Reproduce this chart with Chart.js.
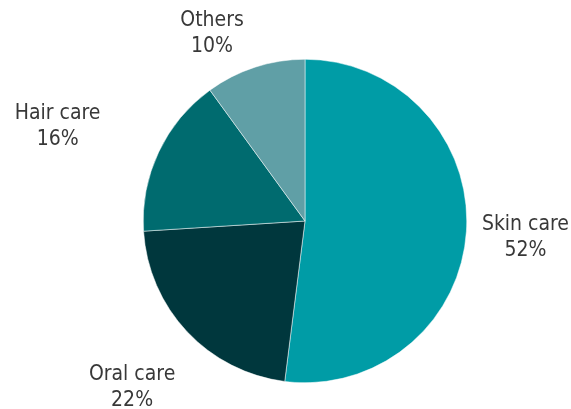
<!DOCTYPE html>
<html>
<head>
<meta charset="utf-8">
<script src="https://cdn.jsdelivr.net/npm/chart.js@4.4.0/dist/chart.umd.min.js"></script>
<style>
  html, body { margin: 0; padding: 0; background: #fff; }
  #wrap { width: 571px; height: 409px; }
</style>
</head>
<body>
<div id="wrap"><canvas id="myChart" width="571" height="409"></canvas></div>
<script>
const categories = ['Skin care', 'Oral care', 'Hair care', 'Others'];
const shares = [52, 22, 16, 10];
const colors = ['#009ca6', '#00373d', '#006b6f', '#609fa6'];

// nudge of each label (px) from the outer middle of its slice
const labelNudge = [[59, 6], [-55, 56], [-101, -26], [-43, -34]];

const pieLabels = {
  id: 'pieLabels',
  afterDatasetsDraw(chart) {
    const c = chart.ctx;
    const meta = chart.getDatasetMeta(0);
    c.save();
    c.font = '21px "DejaVu Sans Condensed", "Liberation Sans", sans-serif';
    c.fillStyle = '#383838';
    c.textAlign = 'center';
    c.textBaseline = 'middle';
    meta.data.forEach((arc, i) => {
      const p = arc.getProps(['x', 'y', 'startAngle', 'endAngle', 'outerRadius'], true);
      const mid = (p.startAngle + p.endAngle) / 2;
      const x = p.x + Math.cos(mid) * p.outerRadius + labelNudge[i][0];
      const y = p.y + Math.sin(mid) * p.outerRadius + labelNudge[i][1];
      c.fillText(chart.data.labels[i], x, y - 13);
      c.fillText(chart.data.datasets[0].data[i] + '%', x, y + 13);
    });
    c.restore();
  }
};

const ctx = document.getElementById('myChart');
const chart = new Chart(ctx, {
  type: 'pie',
  data: {
    labels: categories,
    datasets: [{
      data: shares,
      backgroundColor: colors,
      borderColor: '#ffffff',
      borderWidth: 0.5
    }]
  },
  options: {
    responsive: false,
    animation: false,
    layout: {
      padding: { left: 143, right: 104, top: 59, bottom: 26 }
    },
    plugins: {
      legend: { display: false },
      tooltip: { enabled: false }
    }
  },
  plugins: [pieLabels]
});
</script>
</body>
</html>
